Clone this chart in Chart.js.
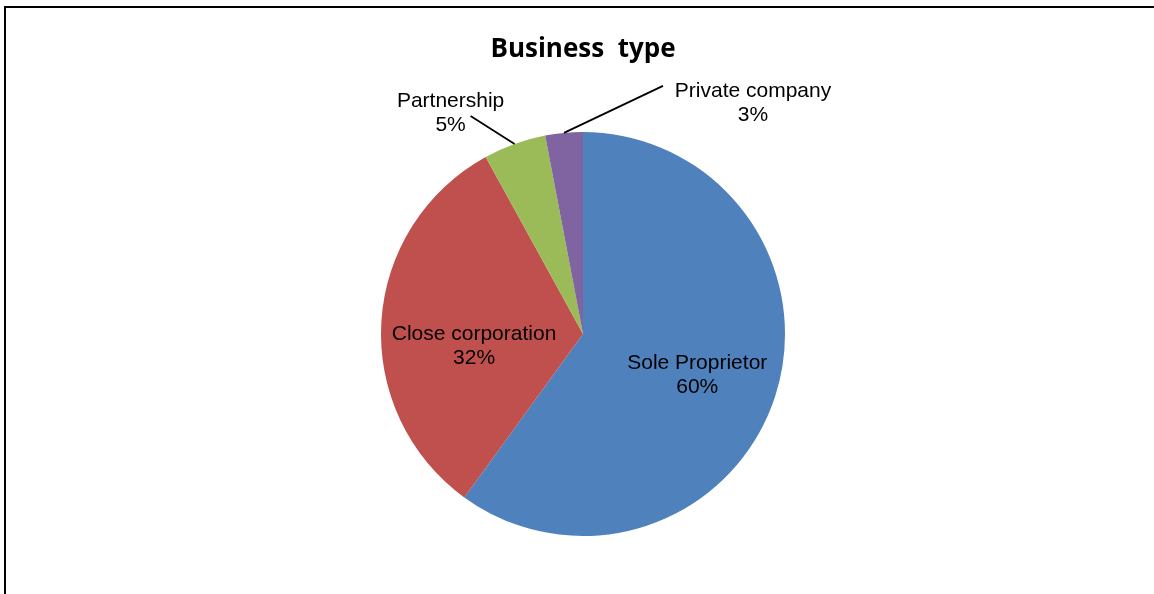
<!DOCTYPE html>
<html>
<head>
<meta charset="utf-8">
<script src="https://cdn.jsdelivr.net/npm/chart.js@4.4.0/dist/chart.umd.min.js"></script>
<style>
  html, body { margin: 0; padding: 0; background: #fff; }
  #wrap { position: relative; width: 1154px; height: 594px; overflow: hidden; }
  #frame { position: absolute; left: 4px; top: 6px; width: 1200px; height: 700px;
           border-left: 2px solid #000; border-top: 2px solid #000; }
  #pieChart { position: absolute; left: 0; top: 0; }
</style>
</head>
<body>
<div id="wrap">
  <div id="frame"></div>
  <canvas id="pieChart" width="1154" height="594"></canvas>
</div>
<script>
// data
const categories = ["Sole Proprietor", "Close corporation", "Partnership", "Private company"];
const shares = [60, 32, 5, 3];
const percentLabels = ["60%", "32%", "5%", "3%"];

const sliceColors = ["#4F81BD", "#C0504D", "#9BBB59", "#8064A2"];

// where each label sits relative to its slice
const labelPlacement = [
  { inside: true, frac: 0.6, dx: -1, dy: 4 },
  { inside: true, frac: 0.6, dx: 12, dy: 20 },
  { inside: false, dx: -64, dy: -31, lx: 20, ly: 3 },
  { inside: false, dx: 189, dy: -30, lx: -90, ly: -17 }
];

const sliceLabels = {
  id: "sliceLabels",
  afterDatasetsDraw(chart) {
    const ctx = chart.ctx;
    const arcs = chart.getDatasetMeta(0).data;
    ctx.save();
    ctx.font = "21px 'Liberation Sans', Arial, sans-serif";
    ctx.fillStyle = "#000";
    ctx.textAlign = "center";
    ctx.textBaseline = "middle";
    arcs.forEach((arc, i) => {
      const p = arc.getProps(["x", "y", "startAngle", "endAngle", "outerRadius"], true);
      const mid = (p.startAngle + p.endAngle) / 2;
      const pl = labelPlacement[i];
      let cx, cy;
      if (pl.inside) {
        cx = p.x + Math.cos(mid) * p.outerRadius * pl.frac + pl.dx;
        cy = p.y + Math.sin(mid) * p.outerRadius * pl.frac + pl.dy;
      } else {
        const ex = p.x + Math.cos(mid) * p.outerRadius;
        const ey = p.y + Math.sin(mid) * p.outerRadius;
        cx = ex + pl.dx;
        cy = ey + pl.dy;
        ctx.beginPath();
        ctx.strokeStyle = "#000";
        ctx.lineWidth = 1.75;
        ctx.moveTo(cx + pl.lx, cy + pl.ly);
        ctx.lineTo(ex, ey);
        ctx.stroke();
      }
      ctx.fillText(categories[i], cx, cy - 12);
      ctx.fillText(percentLabels[i], cx, cy + 12);
    });
    ctx.restore();
  }
};

new Chart("pieChart", {
  type: "pie",
  data: {
    labels: categories,
    datasets: [{
      data: shares,
      backgroundColor: sliceColors,
      borderWidth: 0
    }]
  },
  options: {
    responsive: false,
    animation: false,
    layout: { padding: { top: 23, bottom: 58, left: 12, right: 0 } },
    plugins: {
      legend: { display: false },
      tooltip: { enabled: false },
      title: {
        display: true,
        text: "Business  type",
        color: "#000",
        font: { family: "'Open Sans', sans-serif", size: 26, weight: "bold" },
        padding: { top: 11.4, bottom: 66.4 }
      }
    }
  },
  plugins: [sliceLabels]
});
</script>
</body>
</html>
